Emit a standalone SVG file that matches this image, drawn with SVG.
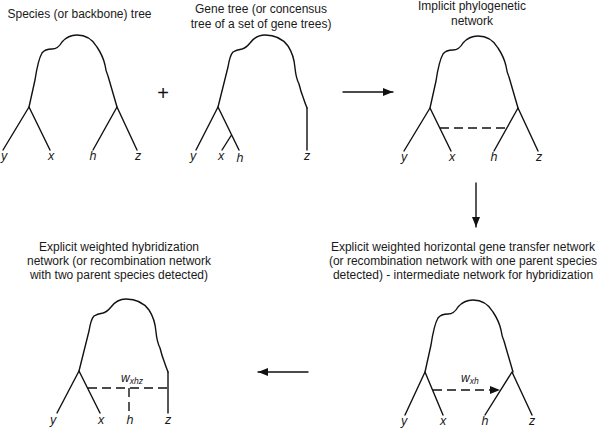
<svg xmlns="http://www.w3.org/2000/svg" width="600" height="429" viewBox="0 0 600 429">
<defs>
<style>
.ln{fill:none;stroke:#111;stroke-width:1.4;stroke-linejoin:round;stroke-linecap:round}
.ds{fill:none;stroke:#111;stroke-width:1.4;stroke-dasharray:9,5}
.t{font-family:"Liberation Sans",Arial,sans-serif;font-size:12px;fill:#1a1a1a;text-anchor:middle}
.lb{font-family:"Liberation Sans",Arial,sans-serif;font-size:12.5px;font-style:italic;fill:#1a1a1a;text-anchor:middle}
.w{font-family:"Liberation Sans",Arial,sans-serif;font-size:12px;font-style:italic;fill:#1a1a1a}
.ws{font-size:8.5px}
</style>
<marker id="ah" viewBox="0 0 10 8" refX="10" refY="4" markerWidth="10" markerHeight="8" markerUnits="userSpaceOnUse" orient="auto">
<path d="M0,0 L10,4 L0,8 Z" fill="#111"/>
</marker>
<path id="canopyS" d="M29,107 L35,80 Q38,60 42,53 Q45,49 52,49 Q58,49 62,42 Q68,35 77,35 Q90,35 97,47 Q103,56 105,65 Q106,72 108,76 L117,107"/>
<path id="canopyG" d="M218,107 L228,67 Q230,55 233,52 Q236,50 242,49 Q246,48 250,43 Q256,35 265,35 Q280,35 288,46 Q294,55 295,68 Q296,78 299,84 Q301,92 303,97 Q305,103 307,108"/>
</defs>

<g id="title-species"><text class="t" x="79.5" y="18">Species (or backbone) tree</text></g>
<g id="title-gene"><text class="t" x="261" y="13">Gene tree (or concensus</text><text class="t" x="261" y="28">tree of a set of gene trees)</text></g>
<g id="title-implicit"><text class="t" x="472" y="10">Implicit phylogenetic</text><text class="t" x="472" y="25">network</text></g>
<g id="title-hybrid"><text class="t" x="119" y="251">Explicit weighted hybridization</text><text class="t" x="119" y="265">network (or recombination network</text><text class="t" x="119" y="279">with two parent species detected)</text></g>
<g id="title-hgt"><text class="t" x="463" y="251">Explicit weighted horizontal gene transfer network</text><text class="t" x="463" y="265">(or recombination network with one parent species</text><text class="t" x="463" y="279">detected) - intermediate network for hybridization</text></g>

<g id="species-tree">
<use href="#canopyS" class="ln"/>
<path class="ln" d="M3,150 L29,107 L50,150 M93,150 L117,107 L137,150"/>
<text class="lb" x="4" y="160">y</text><text class="lb" x="51" y="160">x</text><text class="lb" x="93" y="160">h</text><text class="lb" x="138" y="160">z</text>
</g>

<g id="plus"><text x="163" y="100" style="font-family:'Liberation Sans',Arial,sans-serif;font-size:20px;fill:#111;text-anchor:middle">+</text></g>

<g id="gene-tree">
<use href="#canopyG" class="ln"/>
<path class="ln" d="M196,150 L218,107 L239,150 M231.5,135 L222,150 M307,108 L307,150"/>
<text class="lb" x="193" y="160">y</text><text class="lb" x="221" y="160">x</text><text class="lb" x="240" y="162">h</text><text class="lb" x="307" y="160">z</text>
</g>

<g id="implicit-network">
<use href="#canopyS" class="ln" transform="translate(401,1)"/>
<path class="ln" d="M404,151 L430,108 L451,151 M494,151 L518,108 L538,151"/>
<path class="ds" d="M440,128 L507,128"/>
<text class="lb" x="404" y="161">y</text><text class="lb" x="452" y="161">x</text><text class="lb" x="494" y="161">h</text><text class="lb" x="539" y="161">z</text>
</g>

<g id="hgt-network">
<use href="#canopyS" class="ln" transform="translate(396,265)"/>
<path class="ln" d="M405,415 L425,372 L443,415 M485,415 L512,372 L532,415"/>
<path class="ds" d="M433,390 L491,390"/>
<path d="M490,386 L500,390 L490,394 Z" fill="#111"/>
<text class="w" x="461" y="382">w<tspan class="ws" dy="1.5">xh</tspan></text>
<text class="lb" x="404" y="425">y</text><text class="lb" x="443" y="425">x</text><text class="lb" x="485" y="425">h</text><text class="lb" x="532" y="425">z</text>
</g>

<g id="hybrid-network">
<use href="#canopyG" class="ln" transform="translate(-139,264)"/>
<path class="ln" d="M57,413 L79,371 L100,413 M168,372 L168,413"/>
<path class="ds" d="M88,388 L168,388 M129,388 L129,413"/>
<text class="w" x="121" y="382">w<tspan class="ws" dy="1.5">xhz</tspan></text>
<text class="lb" x="53" y="424">y</text><text class="lb" x="101" y="424">x</text><text class="lb" x="130" y="424">h</text><text class="lb" x="168" y="424">z</text>
</g>

<g id="connectors">
<path class="ln" d="M343,92 L393,92" marker-end="url(#ah)"/>
<path class="ln" d="M476,183 L476,227" marker-end="url(#ah)"/>
<path class="ln" d="M308,372 L258,372" marker-end="url(#ah)"/>
</g>
</svg>
